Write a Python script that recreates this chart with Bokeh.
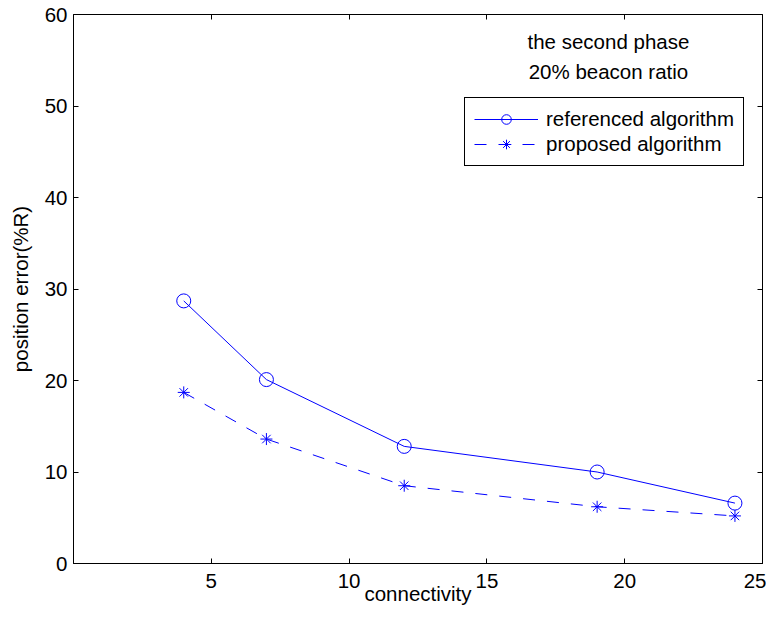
from bokeh.plotting import figure
from bokeh.models import (Range1d, FixedTicker, LinearAxis, Legend, LegendItem, Label)
from bokeh.embed import file_html
from bokeh.resources import INLINE

connectivity = [4, 7, 12, 19, 24]
referenced = [28.7, 20.1, 12.8, 10.0, 6.6]
proposed = [18.7, 13.6, 8.5, 6.2, 5.2]
x_ticks = [5, 10, 15, 20, 25]
y_ticks = [0, 10, 20, 30, 40, 50, 60]
notes = ["the second phase", "20% beacon ratio"]
series_names = ["referenced algorithm", "proposed algorithm"]

FONT = "Liberation Sans"
FS = "20.5px"
BLUE = "#0000ff"

p = figure(frame_width=689, frame_height=549, output_backend="svg", toolbar_location=None,
           x_range=Range1d(0, 25), y_range=Range1d(0, 60),
           min_border_left=73, min_border_top=14, min_border_right=4, min_border_bottom=10)
p.grid.grid_line_color = None
p.outline_line_color = "black"
p.outline_line_width = 1
p.background_fill_color = "white"
p.border_fill_color = "white"

p.xaxis.ticker = FixedTicker(ticks=x_ticks)
p.yaxis.ticker = FixedTicker(ticks=y_ticks)
for ax in [p.xaxis[0], p.yaxis[0]]:
    ax.major_tick_in = 5
    ax.major_tick_out = 0
    ax.minor_tick_line_color = None
    ax.axis_line_color = "black"
    ax.major_label_text_font = FONT
    ax.major_label_text_font_size = FS
    ax.major_label_text_color = "black"
    ax.axis_label_text_font = FONT
    ax.axis_label_text_font_size = FS
    ax.axis_label_text_font_style = "normal"
    ax.axis_label_text_color = "black"
p.xaxis.axis_label = "connectivity"
p.yaxis.axis_label = "position error(%R)"
p.xaxis.major_label_standoff = 10
p.yaxis.major_label_standoff = 6
p.xaxis.axis_label_standoff = -9
p.yaxis.axis_label_standoff = 10

top = LinearAxis(ticker=FixedTicker(ticks=x_ticks), major_tick_in=5, major_tick_out=0,
                 minor_tick_line_color=None, axis_line_color=None,
                 major_label_overrides={t: "" for t in x_ticks}, major_label_standoff=0)
right = LinearAxis(ticker=FixedTicker(ticks=y_ticks), major_tick_in=5, major_tick_out=0,
                   minor_tick_line_color=None, axis_line_color=None,
                   major_label_overrides={t: "" for t in y_ticks}, major_label_standoff=0)
p.add_layout(top, "above")
p.add_layout(right, "right")

l1 = p.line(connectivity, referenced, line_color=BLUE, line_width=1)
m1 = p.scatter(connectivity, referenced, marker="circle", size=14, fill_color=None,
               line_color=BLUE, line_width=1)
l2 = p.line(connectivity, proposed, line_color=BLUE, line_width=1, line_dash="12 12")
m2 = p.scatter(connectivity, proposed, marker="asterisk", size=12, line_color=BLUE, line_width=1)

legend = Legend(items=[LegendItem(label=series_names[0], renderers=[l1, m1]),
                       LegendItem(label=series_names[1], renderers=[l2, m2])],
                location=(391, 397), orientation="vertical",
                border_line_color="black", border_line_width=1, border_line_alpha=1,
                background_fill_color="white", background_fill_alpha=1,
                label_text_font=FONT, label_text_font_size=FS, label_text_color="black",
                glyph_width=64, glyph_height=24, label_height=24, label_standoff=8,
                padding=9, spacing=1, margin=0)
p.add_layout(legend, "center")

for txt, yv in zip(notes, [57.05, 53.8]):
    p.add_layout(Label(x=19.41, y=yv, text=txt, text_font=FONT, text_font_size=FS,
                       text_align="center", text_baseline="middle", text_color="black"))

open("out.html", "w").write(file_html(p, INLINE))
